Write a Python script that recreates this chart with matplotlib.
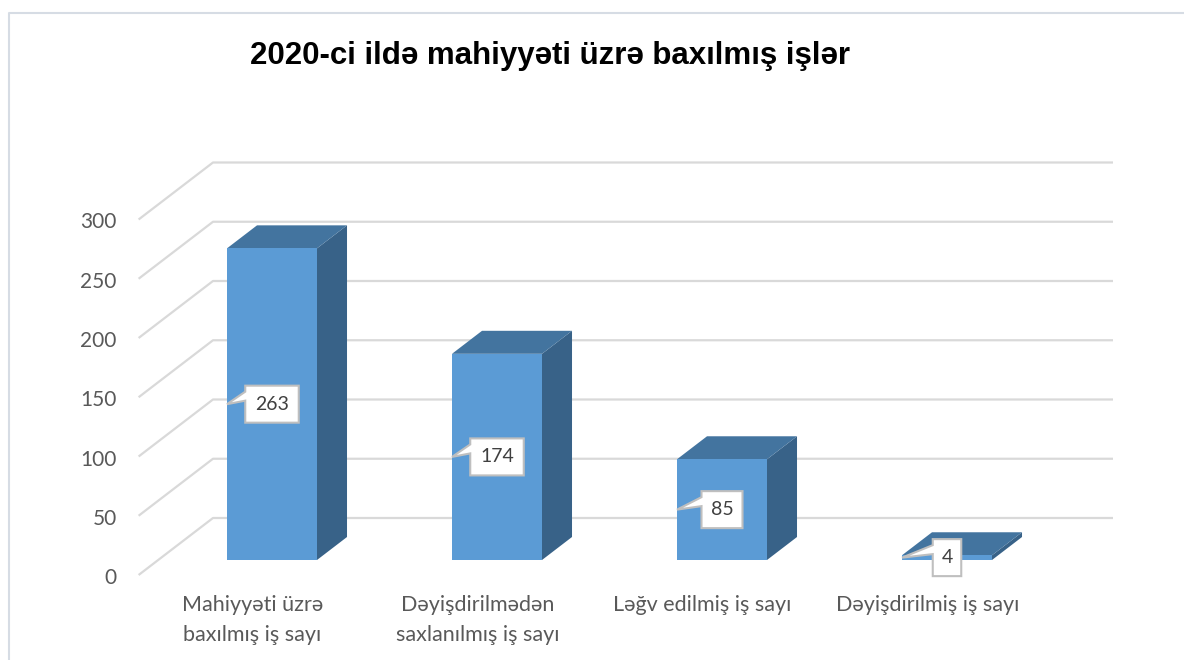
import matplotlib
matplotlib.use('Agg')
import matplotlib.pyplot as plt
from matplotlib.patches import Polygon

# data
categories = ['Mahiyyəti üzrə\nbaxılmış iş sayı',
              'Dəyişdirilmədən\nsaxlanılmış iş sayı',
              'Ləğv edilmiş iş sayı',
              'Dəyişdirilmiş iş sayı']
values = [263, 174, 85, 4]
yticks = [0, 50, 100, 150, 200, 250, 300]
title = '2020-ci ildə mahiyyəti üzrə baxılmış işlər'

W, H = 1184, 660
fig = plt.figure(figsize=(W / 100, H / 100), dpi=100)
ax = fig.add_axes([0, 0, 1, 1])

# pixel -> data scale (category step 225 px, 1 unit = 1.185 px)
SX = 225.0
SY = 1.185
X0, Y0 = 272.0, 560.0   # pixel of category 0 / value 0 on bar front plane
ax.set_xlim(-X0 / SX, (W - X0) / SX)
ax.set_ylim(-(H - Y0) / SY, Y0 / SY)
ax.axis('off')

SLOPE = 1.305   # horizontal px per vertical px of depth


def P(x, v, d=0.0, px=0.0, py=0.0):
    # data point, pushed back by depth d (px) and shifted by px/py pixels
    return (x + (d * SLOPE + px) / SX, v + (d - py) / SY)


D_FRONT, D_BAR, D_BACK = -15, 23, 42
grid_c = '#d9d9d9'
wall_right = (1113 - X0) / SX - D_BACK * SLOPE / SX
wall_left = (213 - X0) / SX - D_BACK * SLOPE / SX

for v in yticks:
    a = P(wall_left, v, D_FRONT)
    b = P(wall_left, v, D_BACK)
    c = P(wall_right, v, D_BACK)
    ax.plot([a[0], b[0], c[0]], [a[1], b[1], c[1]], color=grid_c, lw=1.6,
            solid_capstyle='butt', zorder=1)
    ax.text(a[0] - 22 / SX, a[1] - 3 / SY, str(v), ha='right', va='center',
            fontsize=15, color='#595959', family='Lato')

front_c, top_c, side_c = '#5b9bd5', '#43749f', '#386288'
bw = 90 / SX
for i, v in enumerate(values):
    x0, x1 = i - bw / 2, i + bw / 2
    ax.add_patch(Polygon([P(x1, 0), P(x1, 0, D_BAR), P(x1, v, D_BAR), P(x1, v)],
                         closed=True, fc=side_c, ec='none', zorder=3))
    ax.add_patch(Polygon([P(x0, v), P(x1, v), P(x1, v, D_BAR), P(x0, v, D_BAR)],
                         closed=True, fc=top_c, ec='none', zorder=3))
    ax.bar(i, v, width=bw, bottom=0, color=front_c, zorder=4)

    # callout label
    s = str(v)
    w = 16 + 12.5 * len(s)
    h = 37
    tip = P(x0, v / 2)
    bl = -w / 2
    pts = [P(i, v / 2, px=bl, py=-h / 2), P(i, v / 2, px=bl + w, py=-h / 2),
           P(i, v / 2, px=bl + w, py=h / 2), P(i, v / 2, px=bl, py=h / 2),
           P(i, v / 2, px=bl, py=-h / 2 + 15), tip,
           P(i, v / 2, px=bl, py=-h / 2 + 6)]
    ax.add_patch(Polygon(pts, closed=True, fc='white', ec='#bfbfbf', lw=1.5,
                         zorder=5))
    ax.text(i, v / 2, s, ha='center', va='center', fontsize=14,
            color='#404040', family='Lato', zorder=6)

    lx, ly = P(i, 0, D_FRONT)
    ax.text(lx, ly - 20 / SY, categories[i], ha='center', va='top',
            fontsize=15.5, color='#595959', family='Lato', linespacing=1.6)

fig.text(550 / W, 1 - 56 / H, title, ha='center', va='center', fontsize=22.5,
         fontweight='bold', family='Liberation Sans')

# outer frame
fig.add_artist(plt.Line2D([8.5 / W, 8.5 / W, 1], [0, 1 - 12.5 / H, 1 - 12.5 / H],
                          transform=fig.transFigure, color='#d6dce4', lw=1.5))

fig.savefig('out.png', dpi=100)
